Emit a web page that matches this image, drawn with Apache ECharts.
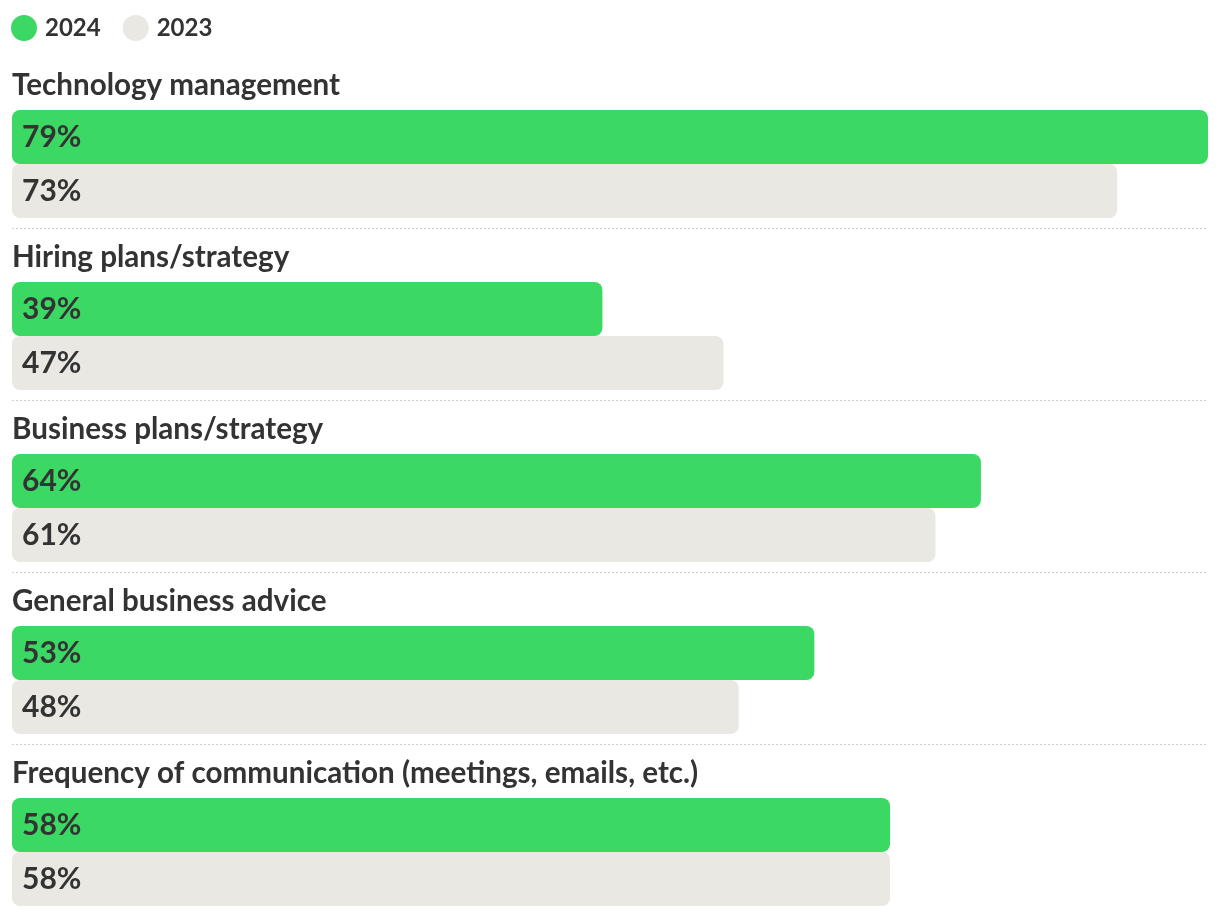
<!DOCTYPE html>
<html><head><meta charset="utf-8">
<script src="https://cdn.jsdelivr.net/npm/echarts@6/dist/echarts.min.js"></script>
<style>html,body{margin:0;padding:0;background:#fff}#c{width:1220px;height:916px}</style>
</head><body><div id="c"></div>
<script>
const categories = ["Technology management","Hiring plans/strategy","Business plans/strategy","General business advice","Frequency of communication (meetings, emails, etc.)"];
const values2024 = [79,39,64,53,58];
const values2023 = [73,47,61,48,58];
const seriesNames = ["2024","2023"];
const axisMax = 79;

const FONT = 'Lato';
const chart = echarts.init(document.getElementById('c'));
chart.setOption({
  animation:false,
  legend:{
    data:seriesNames, left:11, top:15, padding:0, icon:'circle', itemWidth:26, itemHeight:26, itemGap:22,
    textStyle:{fontFamily:FONT, fontSize:24, fontWeight:'bold', color:'#333', padding:[0,0,0,3]}
  },
  grid:{left:12, right:12, top:56, bottom:0, containLabel:false},
  xAxis:{type:'value', min:0, max:axisMax, show:false},
  yAxis:{type:'category', data:categories, inverse:true,
    axisLine:{show:false}, axisTick:{show:false}, axisLabel:{show:false},
    splitLine:{show:true, interval:function(i){return i!==0;}, lineStyle:{color:'#cfcfcf', type:[2,2], width:1}}
  },
  series:[
    {name:'title', type:'bar', barWidth:44, barGap:'0%', silent:true,
      data:categories.map(()=>axisMax), itemStyle:{color:'rgba(0,0,0,0)'},
      label:{show:true, position:'insideLeft', distance:0, offset:[0,-3], formatter:(p)=>p.name,
        fontFamily:FONT, fontSize:29.6, fontWeight:'bold', color:'#333'}},
    {name:seriesNames[0], type:'bar', barWidth:54, barGap:'0%', data:values2024,
      itemStyle:{color:'#3BD964', borderRadius:8},
      label:{show:true, position:'insideLeft', distance:10, formatter:'{c}%', fontFamily:FONT, fontSize:30, fontWeight:'bold', color:'#333'}},
    {name:seriesNames[1], type:'bar', barWidth:54, barGap:'0%', data:values2023,
      itemStyle:{color:'#E9E8E2', borderRadius:8},
      label:{show:true, position:'insideLeft', distance:10, formatter:'{c}%', fontFamily:FONT, fontSize:30, fontWeight:'bold', color:'#333'}}
  ]
});
</script></body></html>
